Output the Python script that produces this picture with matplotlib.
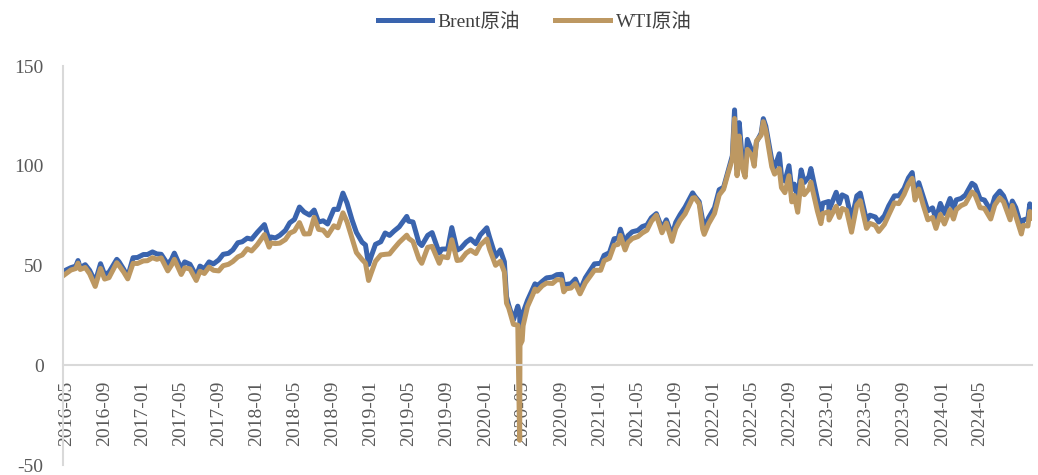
import pandas as pd
import matplotlib.pyplot as plt
import matplotlib.dates as mdates

# daily closes, sampled at turning points (USD/bbl)
dates = [
    "2016-04-21", "2016-05-16", "2016-06-01", "2016-06-08", "2016-06-15", "2016-07-01", "2016-07-15",
    "2016-08-02", "2016-08-19", "2016-09-01", "2016-09-15", "2016-10-10", "2016-10-17", "2016-11-01",
    "2016-11-14", "2016-12-01", "2016-12-15",
    "2017-01-03", "2017-01-16", "2017-02-01", "2017-02-15", "2017-03-01", "2017-03-22", "2017-04-03",
    "2017-04-12", "2017-05-04", "2017-05-15", "2017-06-01", "2017-06-21", "2017-07-03", "2017-07-17",
    "2017-08-01", "2017-08-15", "2017-09-01", "2017-09-15", "2017-10-02", "2017-10-16", "2017-11-01",
    "2017-11-15", "2017-12-01", "2017-12-15",
    "2018-01-02", "2018-01-25", "2018-02-09", "2018-02-15", "2018-03-01", "2018-03-15", "2018-04-02",
    "2018-04-16", "2018-05-01", "2018-05-17", "2018-06-01", "2018-06-18", "2018-07-03", "2018-07-17",
    "2018-08-01", "2018-08-15", "2018-09-04", "2018-09-17", "2018-10-03", "2018-10-16", "2018-11-01",
    "2018-11-15", "2018-12-03", "2018-12-14", "2018-12-24",
    "2019-01-02", "2019-01-15", "2019-02-01", "2019-02-15", "2019-03-01", "2019-03-15", "2019-04-01",
    "2019-04-25", "2019-05-01", "2019-05-15", "2019-06-03", "2019-06-12", "2019-07-01", "2019-07-15",
    "2019-08-07", "2019-08-15", "2019-09-03", "2019-09-16", "2019-10-03", "2019-10-15", "2019-11-01",
    "2019-11-15", "2019-12-02", "2019-12-16",
    "2020-01-06", "2020-01-15", "2020-02-03", "2020-02-18", "2020-03-02", "2020-03-09", "2020-03-16",
    "2020-03-31", "2020-04-14", "2020-04-20", "2020-04-21", "2020-04-28", "2020-05-01", "2020-05-15",
    "2020-06-01", "2020-06-08", "2020-06-15", "2020-07-01", "2020-07-15", "2020-08-03", "2020-08-17",
    "2020-09-01", "2020-09-08", "2020-09-15", "2020-10-01", "2020-10-15", "2020-10-30", "2020-11-16",
    "2020-12-01", "2020-12-15",
    "2021-01-04", "2021-01-15", "2021-02-01", "2021-02-16", "2021-03-01", "2021-03-08", "2021-03-23",
    "2021-04-01", "2021-04-15", "2021-05-03", "2021-05-17", "2021-06-01", "2021-06-15", "2021-07-01",
    "2021-07-19", "2021-08-02", "2021-08-20", "2021-09-01", "2021-09-15", "2021-10-01", "2021-10-25",
    "2021-11-01", "2021-11-15", "2021-11-26", "2021-12-01", "2021-12-15",
    "2022-01-03", "2022-01-18", "2022-02-01", "2022-02-14", "2022-03-01", "2022-03-08", "2022-03-16",
    "2022-03-23", "2022-04-01", "2022-04-11", "2022-04-18", "2022-05-02", "2022-05-10", "2022-05-17",
    "2022-06-01", "2022-06-08", "2022-06-16", "2022-07-05", "2022-07-14", "2022-07-29", "2022-08-05",
    "2022-08-16", "2022-08-29", "2022-09-07", "2022-09-15", "2022-09-26", "2022-10-07", "2022-10-17",
    "2022-11-01", "2022-11-07", "2022-11-28", "2022-12-09", "2022-12-15",
    "2023-01-03", "2023-01-04", "2023-01-27", "2023-02-06", "2023-02-15", "2023-03-01", "2023-03-17",
    "2023-04-03", "2023-04-14", "2023-05-04", "2023-05-15", "2023-06-01", "2023-06-12", "2023-06-30",
    "2023-07-14", "2023-08-01", "2023-08-15", "2023-09-01", "2023-09-15", "2023-09-27", "2023-10-06",
    "2023-10-18", "2023-11-01", "2023-11-16", "2023-12-01", "2023-12-12", "2023-12-26",
    "2024-01-08", "2024-01-26", "2024-02-06", "2024-02-15", "2024-03-01", "2024-03-15", "2024-04-05",
    "2024-04-15", "2024-05-01", "2024-05-15", "2024-06-04", "2024-06-17", "2024-07-03", "2024-07-15",
    "2024-08-05", "2024-08-12", "2024-08-23", "2024-09-10", "2024-09-16", "2024-10-01", "2024-10-07",
    "2024-10-14",
]

brent = [
    47.0, 48.9, 49.7, 52.5, 48.9, 50.4, 47.6,
    41.8, 50.9, 45.5, 46.6, 53.1, 51.9, 48.1,
    44.4, 53.9, 54.0,
    55.5, 55.5, 56.8, 55.8, 55.6, 50.6, 53.1,
    56.2, 48.4, 51.8, 50.6, 44.8, 49.7, 48.4,
    51.8, 50.8, 52.8, 55.6, 56.1, 57.8, 61.4,
    61.9, 63.7, 63.2,
    66.6, 70.5, 62.8, 64.3, 63.8, 65.1, 67.6,
    71.4, 73.1, 79.3, 76.8, 75.3, 77.8, 71.8,
    72.4, 70.8, 78.2, 78.1, 86.3, 81.4, 72.9,
    66.6, 61.7, 60.3, 50.5,
    54.9, 60.6, 61.9, 66.3, 65.1, 67.2, 69.4,
    74.6, 72.2, 71.8, 61.3, 60.0, 65.1, 66.5,
    56.2, 58.2, 58.3, 69.0, 57.7, 58.7, 61.7,
    63.3, 60.9, 65.3,
    68.9, 64.0, 54.5, 57.8, 51.9, 34.4, 30.1,
    22.7, 29.6, 25.6, 19.3, 20.5, 26.4, 32.5,
    38.3, 40.8, 39.7, 42.0, 43.8, 44.2, 45.4,
    45.6, 39.8, 40.5, 40.9, 43.2, 37.5, 43.8,
    47.4, 50.8,
    51.1, 55.1, 56.4, 63.4, 63.7, 68.2, 60.8,
    64.9, 66.9, 67.6, 69.5, 70.3, 73.9, 76.0,
    68.6, 72.9, 65.2, 71.6, 75.5, 79.3, 86.4,
    84.7, 82.0, 72.7, 68.9, 73.9,
    79.0, 88.0, 89.2, 96.5, 105.0, 128.0, 98.0,
    121.6, 104.4, 98.5, 113.2, 107.6, 102.5, 111.9,
    116.3, 123.6, 119.8, 102.8, 99.1, 106.0, 94.9,
    92.3, 100.0, 88.0, 90.8, 84.1, 97.9, 91.6,
    94.6, 98.6, 83.2, 76.1, 81.2,
    82.1, 77.8, 86.7, 81.0, 85.4, 84.3, 73.0,
    84.9, 86.3, 72.5, 75.2, 74.3, 71.8, 74.9,
    79.9, 84.9, 84.9, 88.6, 93.9, 96.6, 84.6,
    91.5, 84.6, 77.4, 78.9, 73.2, 81.1,
    76.1, 83.6, 78.6, 82.9, 83.6, 85.3, 91.2,
    90.1, 83.4, 82.8, 77.5, 84.3, 87.3, 84.9,
    76.3, 82.3, 79.0, 69.2, 72.8, 73.6, 80.9,
    77.5,
]

wti = [
    44.8, 47.7, 48.5, 51.2, 48.0, 49.0, 45.9,
    39.5, 48.5, 43.2, 43.9, 51.4, 50.0, 46.7,
    43.3, 51.1, 51.0,
    52.3, 52.4, 53.9, 53.1, 53.8, 47.3, 50.2,
    53.1, 45.5, 48.8, 48.3, 42.5, 47.1, 46.0,
    49.2, 47.6, 47.3, 49.9, 50.6, 52.0, 54.3,
    55.3, 58.4, 57.3,
    60.4, 65.5, 59.2, 61.3, 61.0, 61.2, 63.0,
    66.2, 67.3, 71.5, 65.8, 65.9, 74.1, 68.1,
    67.7, 65.0, 69.9, 68.9, 76.4, 71.9, 63.7,
    56.5, 53.0, 51.2, 42.5,
    46.5, 52.1, 55.3, 55.6, 55.8, 58.5, 61.6,
    65.2, 63.6, 62.0, 53.3, 51.1, 59.1, 59.6,
    51.1, 54.5, 53.9, 62.9, 52.5, 52.8, 56.2,
    57.7, 56.0, 60.2,
    63.3, 58.1, 50.1, 52.1, 46.8, 31.1, 28.7,
    20.5, 20.1, -37.6, 10.0, 12.3, 19.8, 29.4,
    35.4, 38.2, 37.1, 39.8, 41.2, 41.0, 42.9,
    42.8, 36.8, 38.3, 38.7, 40.9, 35.8, 41.3,
    44.6, 47.6,
    47.6, 52.4, 53.6, 60.1, 60.6, 65.1, 57.8,
    61.5, 63.5, 64.5, 66.3, 67.7, 72.1, 75.2,
    66.4, 71.3, 62.1, 68.6, 72.6, 75.9, 83.8,
    84.0, 80.9, 68.2, 65.6, 70.9,
    76.1, 85.4, 88.2, 95.5, 103.4, 123.7, 95.0,
    114.9, 99.3, 94.3, 108.2, 105.2, 99.8, 112.4,
    115.3, 122.1, 117.6, 99.5, 95.8, 98.6, 89.0,
    86.5, 95.0, 81.9, 85.1, 76.7, 92.6, 85.5,
    88.4, 91.8, 77.2, 71.0, 76.1,
    76.9, 72.8, 79.7, 74.1, 78.6, 77.7, 66.7,
    80.4, 82.5, 68.6, 71.1, 70.1, 67.1, 70.6,
    75.4, 81.4, 81.0, 85.6, 90.8, 93.7, 82.8,
    88.3, 80.4, 72.9, 74.1, 68.6, 75.6,
    70.8, 78.0, 73.3, 78.0, 80.0, 81.0, 86.9,
    85.4, 79.0, 78.6, 73.3, 80.3, 83.9, 81.9,
    72.9, 80.1, 74.8, 65.8, 70.1, 69.8, 77.1,
    73.8,
]

x = pd.to_datetime(dates)

plt.rcParams['font.family'] = ['Liberation Serif', 'Noto Sans CJK SC']
plt.rcParams['axes.unicode_minus'] = False

fig = plt.figure(figsize=(10.38, 4.75), dpi=100)
ax = fig.add_axes([63/1038, 1 - 465/475, (1032 - 63)/1038, (465 - 66)/475])

ax.plot(x, brent, color='#3A64AE', lw=3.6, label='Brent原油', solid_joinstyle='round')
ax.plot(x, wti, color='#BD9862', lw=3.6, label='WTI原油', solid_joinstyle='round')

ax.set_ylim(-50, 150)
ax.set_yticks([-50, 0, 50, 100, 150])
ax.set_xlim(x[0], x[-1])

ticks = pd.date_range('2016-05-01', '2024-05-01', freq='4MS')
ax.set_xticks(ticks)
ax.xaxis.set_major_formatter(mdates.DateFormatter('%Y-%m'))

for s in ['top', 'right']:
    ax.spines[s].set_visible(False)
ax.spines['bottom'].set_position(('data', 0))
ax.spines['bottom'].set_color('#d9d9d9')
ax.spines['left'].set_color('#d9d9d9')
ax.spines['bottom'].set_linewidth(1.5)
ax.spines['left'].set_linewidth(1.5)

ax.tick_params(axis='x', length=0, pad=11, labelsize=14, labelcolor='#595959', rotation=90)
ax.tick_params(axis='y', length=0, pad=14, labelsize=14, labelcolor='#595959')

fig.legend(loc='upper center', bbox_to_anchor=(0.515, 1.01), ncol=2, frameon=False,
           fontsize=14, handlelength=2.8, columnspacing=1.8, handletextpad=0.3,
           labelcolor='#404040')

fig.savefig('out.png', dpi=100)
